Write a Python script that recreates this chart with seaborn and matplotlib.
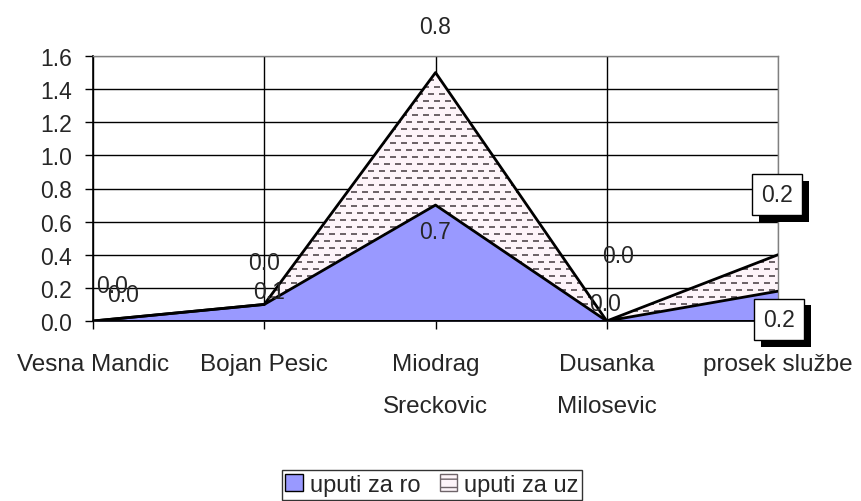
import numpy as np
import pandas as pd
import matplotlib
matplotlib.use("Agg")
import matplotlib.pyplot as plt
import matplotlib.patheffects as pe
from matplotlib.patches import Patch
import seaborn as sns

categories = ["Vesna Mandic", "Bojan Pesic", "Miodrag\nSreckovic", "Dusanka\nMilosevic", "prosek službe"]
uputi_za_ro = [0.0, 0.1, 0.7, 0.0, 0.18]
uputi_za_uz = [0.0, 0.0, 0.8, 0.0, 0.22]
series_names = ["uputi za ro", "uputi za uz"]
y_ticks = [0.0, 0.2, 0.4, 0.6, 0.8, 1.0, 1.2, 1.4, 1.6]

sns.set_theme(style="white")
plt.rcParams["font.family"] = ["Liberation Sans", "DejaVu Sans"]

fig = plt.figure(figsize=(8.61, 5.02), dpi=100)
ax = fig.add_axes([93/861, 1-322/502, 685/861, 265/502])

x = np.arange(len(categories))
ro = np.array(uputi_za_ro)
top = ro + np.array(uputi_za_uz)

df = pd.DataFrame({"x": np.concatenate([x, x]),
                   "y": np.concatenate([ro, top]),
                   "s": [series_names[0]]*len(x) + [series_names[1]]*len(x)})

# grid
for yt in y_ticks:
    ax.axhline(yt, color="#808080" if yt == y_ticks[-1] else "black", lw=1.0, zorder=0.5)
for xi in x:
    ax.axvline(xi, color="#808080" if xi == x[-1] else "black", lw=1.0, zorder=0.5)

# fills
ax.fill_between(x, 0, ro, color="#9999FF", lw=0, zorder=1)
coll = ax.fill_between(x, ro, top, color="none", lw=0, zorder=1)

# pattern for second series
H, W = 265, 685
pat = np.ones((H, W, 3))
pat[:] = np.array([253, 244, 249]) / 255.0
dash = np.array([110, 100, 105]) / 255.0
for r, row in enumerate(range(2, H, 7)):
    off = 0 if r % 2 == 0 else 5
    for c0 in range(off, W, 11):
        pat[row:row+2, c0:min(c0+6, W)] = dash
im = ax.imshow(pat, extent=(0, len(x)-1, 0, 1.6), aspect="auto",
               interpolation="nearest", zorder=1.2, origin="upper")
im.set_clip_path(coll.get_paths()[0], coll.get_transform())

sns.lineplot(data=df, x="x", y="y", hue="s", palette=["black", "black"],
             lw=2, legend=False, ax=ax, zorder=3)
ax.plot(x, np.zeros_like(x), color="black", lw=2, zorder=3)

ax.set_xlim(0, len(x)-1)
ax.set_ylim(0, 1.6)
ax.set_xticks(x)
ax.set_xticklabels(categories, fontsize=17.5, linespacing=2.2, va="top")
ax.set_yticks(y_ticks)
ax.set_yticklabels([f"{v:.1f}" for v in y_ticks], fontsize=16.5)
ax.set_xlabel("")
ax.set_ylabel("")
ax.tick_params(axis="y", length=6, width=1, color="black", pad=9, left=True)
ax.tick_params(axis="x", length=6, width=1, color="black", pad=17, bottom=True)
for s in ["left", "bottom"]:
    ax.spines[s].set_color("black")
    ax.spines[s].set_linewidth(1.2)
for s in ["top", "right"]:
    ax.spines[s].set_color("#808080")
    ax.spines[s].set_linewidth(1.0)

# data labels
ro_off = [(30, 26), (5, 13), (0, -26), (-2, 17), (1, -28)]
uz_off = [(19, 35), (0, 42), (0, 46), (11, 65), (-1, 60)]
for i in range(len(x)):
    for vals, anchor, off in [(uputi_za_uz, top, uz_off), (uputi_za_ro, ro, ro_off)]:
        boxed = i == len(x) - 1
        t = ax.annotate(f"{vals[i]:.1f}", xy=(x[i], anchor[i]), xytext=off[i],
                        textcoords="offset pixels", ha="center", va="center",
                        fontsize=16.5, zorder=5, annotation_clip=False,
                        bbox=dict(boxstyle="square,pad=0.4", fc="white", ec="black", lw=1) if boxed else None)
        if boxed:
            t.get_bbox_patch().set_path_effects([
                pe.SimplePatchShadow(offset=(5, -5), shadow_rgbFace="black", alpha=1.0),
                pe.Normal()])

handles = [Patch(facecolor="#9999FF", edgecolor="black", lw=1),
           Patch(facecolor="#FDF4F9", edgecolor="#6E6469", hatch="--", lw=1)]
leg = fig.legend(handles, series_names, loc="center", bbox_to_anchor=(432/861, 1-486/502),
                 ncol=2, fontsize=17, frameon=True, fancybox=False, edgecolor="black",
                 handlelength=0.75, handleheight=0.75, handletextpad=0.3, columnspacing=0.8,
                 borderpad=0.15, borderaxespad=0)
leg.get_frame().set_linewidth(1)

fig.savefig("out.png", dpi=100)
